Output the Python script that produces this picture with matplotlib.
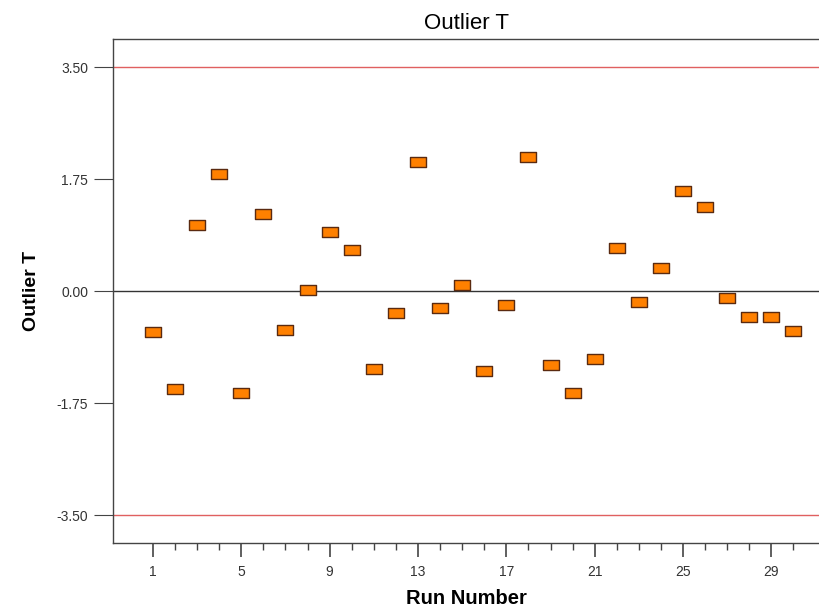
import numpy as np
from matplotlib import pyplot as plt
from matplotlib.path import Path
from matplotlib.ticker import FixedLocator

plt.rcParams['font.family'] = ['Liberation Sans', 'DejaVu Sans']

# Data
runs = list(range(1, 31))
outlier_t = [-0.64, -1.53, 1.03, 1.83, -1.60, 1.20, -0.61, 0.01, 0.93, 0.65,
             -1.21, -0.35, 2.01, -0.27, 0.10, -1.25, -0.21, 2.10, -1.16, -1.60,
             -1.06, 0.67, -0.17, 0.36, 1.56, 1.32, -0.10, -0.41, -0.41, -0.63]
limit = 3.50
y_ticks = [-3.50, -1.75, 0.00, 1.75, 3.50]
x_ticks = [1, 5, 9, 13, 17, 21, 25, 29]

# flat rectangle marker
rect = Path([(-1.4, -1), (1.4, -1), (1.4, 1), (-1.4, 1), (-1.4, -1)],
            [Path.MOVETO, Path.LINETO, Path.LINETO, Path.LINETO, Path.CLOSEPOLY])

fig = plt.figure(figsize=(8.2, 6.09), dpi=100)
ax = fig.add_axes([0.138, 0.108, 0.862, 0.828])

ax.axhline(limit, color='#e06060', lw=1.0, zorder=1)
ax.axhline(-limit, color='#e06060', lw=1.0, zorder=1)
ax.axhline(0, color='#333333', lw=1.0, zorder=1)

ax.plot(runs, outlier_t, linestyle='none', marker=rect, markersize=11,
        markerfacecolor='#ff8000', markeredgecolor='#5a2a10', markeredgewidth=1.0,
        zorder=3)

ax.set_xlim(-0.8, 31.2)
ax.set_ylim(-3.94, 3.94)

ax.yaxis.set_major_locator(FixedLocator(y_ticks))
ax.set_yticklabels(['%.2f' % v for v in y_ticks])
ax.xaxis.set_major_locator(FixedLocator(x_ticks))
ax.xaxis.set_minor_locator(FixedLocator(runs))

ax.tick_params(axis='y', length=14, width=0.8, color='#444444', labelsize=10,
               labelcolor='#333333', pad=4)
ax.tick_params(axis='x', which='major', length=10, width=1.2, color='#444444',
               labelsize=10, labelcolor='#333333', pad=6)
ax.tick_params(axis='x', which='minor', length=5, width=1.0, color='#444444')

for side in ['left', 'bottom', 'top']:
    ax.spines[side].set_color('#444444')
    ax.spines[side].set_linewidth(1.0)
ax.spines['right'].set_visible(False)

ax.set_title('Outlier T', fontsize=16, pad=7)
ax.set_xlabel('Run Number', fontsize=14.5, fontweight='bold', labelpad=7)
ax.set_ylabel('Outlier T', fontsize=14, fontweight='bold', labelpad=12)

plt.savefig('out.png')
